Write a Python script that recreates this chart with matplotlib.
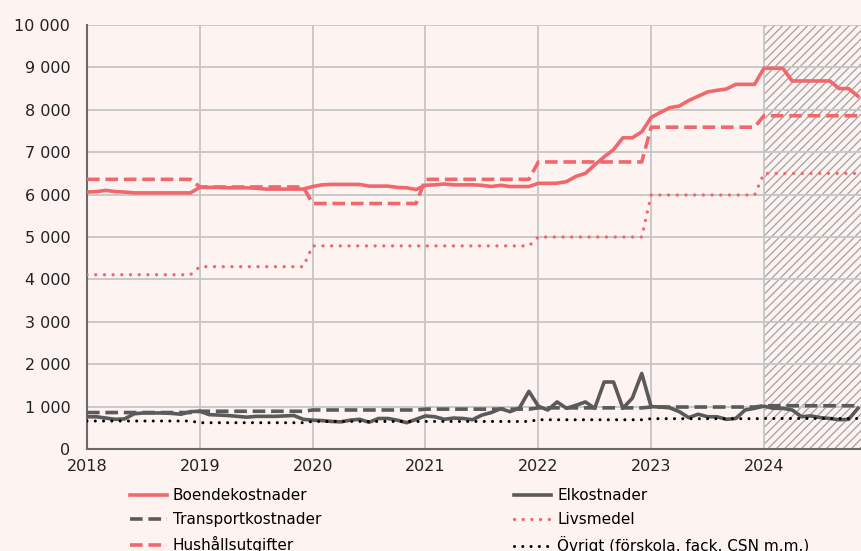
import numpy as np
import matplotlib
matplotlib.use("Agg")
import matplotlib.pyplot as plt
from matplotlib.ticker import FuncFormatter

# Månadsdata jan 2018 - nov 2024
start_ar = 2018
ar = [2018, 2019, 2020, 2021, 2022, 2023, 2024]
manader_per_ar = [12, 12, 12, 12, 12, 12, 11]

boende = [6060, 6070, 6100, 6070, 6060, 6040, 6040, 6040, 6040, 6040, 6040, 6040,
          6170, 6170, 6170, 6160, 6160, 6160, 6150, 6130, 6130, 6130, 6130, 6130,
          6190, 6230, 6240, 6240, 6240, 6240, 6200, 6200, 6200, 6170, 6160, 6120,
          6220, 6230, 6250, 6230, 6230, 6230, 6220, 6190, 6220, 6190, 6190, 6190,
          6265, 6265, 6270, 6305, 6430, 6500, 6700, 6890, 7060, 7340, 7340, 7480,
          7820, 7940, 8050, 8090, 8220, 8320, 8420, 8460, 8490, 8600, 8600, 8600,
          8980, 8980, 8980, 8680, 8680, 8680, 8680, 8680, 8500, 8500, 8320]

el = [760, 760, 730, 700, 710, 830, 850, 850, 850, 840, 820, 880,
      890, 810, 800, 790, 770, 750, 770, 770, 770, 780, 790, 700,
      680, 670, 650, 640, 680, 700, 630, 720, 720, 680, 620, 700,
      780, 760, 700, 730, 720, 690, 800, 860, 950, 880, 970, 1360,
      1010, 920, 1110, 960, 1030, 1110, 960, 1580, 1580, 960, 1200, 1780,
      1000, 990, 970, 880, 740, 820, 760, 760, 700, 720, 920, 960,
      1010, 960, 960, 920, 760, 780, 740, 720, 690, 700, 960]

# årsvisa nivåer (trappsteg)
transport_ar = [860, 890, 920, 940, 970, 990, 1020]
hushall_ar = [6360, 6180, 5790, 6360, 6770, 7590, 7860]
livsmedel_ar = [4110, 4300, 4790, 4790, 5000, 5990, 6500]
ovrigt_ar = [660, 620, 650, 650, 690, 715, 720]

prognos_start = 2024
x_slut = 2024.86

rod = "#f0676d"
gra = "#5a5a5a"
bg = "#fdf3f0"


def per_manad(varden):                       # upprepa årsvärdet för varje månad
    return np.repeat(varden, manader_per_ar)


n = sum(manader_per_ar)
x = start_ar + np.arange(n) / 12

plt.rcParams["font.family"] = "DejaVu Sans"
plt.rcParams["hatch.linewidth"] = 0.9
fig = plt.figure(figsize=(8.61, 5.51), dpi=100, facecolor=bg)
ax = fig.add_axes([87 / 861, 1 - 449 / 551, 1 - 87 / 861, (449 - 25) / 551])
ax.set_facecolor(bg)

# prognosområde
ax.axvspan(prognos_start, x_slut + 0.1, facecolor="none", edgecolor="#a2a2a2",
           hatch="////", linewidth=0, zorder=0.3)

ax.plot(x, boende, color=rod, lw=2.6, solid_joinstyle="round", label="Boendekostnader", zorder=3)
ax.plot(x, per_manad(transport_ar), color=gra, lw=2.6, linestyle=(0, (3.5, 1.6)),
        label="Transportkostnader", zorder=3)
ax.plot(x, per_manad(hushall_ar), color=rod, lw=2.6, linestyle=(0, (3.5, 1.6)),
        label="Hushållsutgifter", zorder=3)
ax.plot(x, el, color=gra, lw=2.6, solid_joinstyle="round", label="Elkostnader", zorder=3)
ax.plot(x, per_manad(livsmedel_ar), color=rod, lw=2.4, linestyle=(0, (0.01, 2.6)),
        dash_capstyle="round", label="Livsmedel", zorder=3)
ax.plot(x, per_manad(ovrigt_ar), color="black", lw=2.2, linestyle=(0, (0.01, 2.7)),
        dash_capstyle="round", label="Övrigt (förskola, fack, CSN m.m.)", zorder=3)

ax.set_xlim(start_ar, x_slut)
ax.set_ylim(0, 10000)
ax.set_xticks(ar)
ax.set_yticks(np.arange(0, 10001, 1000))
ax.yaxis.set_major_formatter(FuncFormatter(lambda v, p: f"{int(v):,}".replace(",", " ")))
ax.tick_params(length=0, labelsize=11.5, colors="#222222")
ax.tick_params(axis="y", pad=12)
ax.tick_params(axis="x", pad=7)

ax.set_axisbelow(True)
ax.grid(True, color="#c6c6c6", lw=1.3)
for s in ["top", "right"]:
    ax.spines[s].set_visible(False)
for s in ["left", "bottom"]:
    ax.spines[s].set_color("#6a6a6a")
    ax.spines[s].set_linewidth(1.5)

fig.legend(loc="upper left", bbox_to_anchor=(130 / 861, 1 - 488 / 551), ncol=2,
           frameon=False, fontsize=11, handlelength=2.4, handletextpad=0.4,
           columnspacing=12.65, labelspacing=0.6, borderpad=0, borderaxespad=0)

fig.savefig("out.png", dpi=100, facecolor=bg)
